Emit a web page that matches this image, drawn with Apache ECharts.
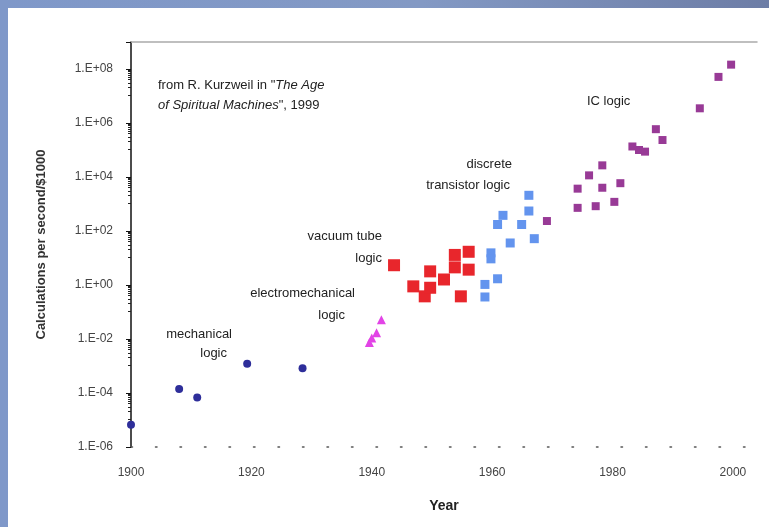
<!DOCTYPE html>
<html>
<head>
<meta charset="utf-8">
<script src="https://cdn.jsdelivr.net/npm/echarts@6/dist/echarts.min.js"></script>
<style>
  html, body {
    margin: 0;
    padding: 0;
    width: 769px;
    height: 527px;
    overflow: hidden;
    background: linear-gradient(to right, #7f98c9, #8399c4 55%, #6d7da6);
  }
  #chart {
    position: absolute;
    left: 8px;
    top: 8px;
    width: 761px;
    height: 519px;
    background: #ffffff;
  }
</style>
</head>
<body>
<div id="chart"></div>
<script>
// [year, calculations per second per $1000]
var mechanical = [
  [1900, 6.6e-6], [1908, 1.4e-4], [1911, 6.8e-5], [1919.3, 1.2e-3], [1928.5, 8.3e-4]
];
var electromechanical = [
  [1939.6, 7.4e-3], [1940, 1.1e-2], [1940.8, 1.7e-2], [1941.6, 5.2e-2]
];
var vacuumTube = [
  [1943.7, 5.4], [1946.9, 0.89], [1948.8, 0.38], [1949.7, 3.2], [1949.7, 0.79],
  [1952, 1.6], [1953.8, 13], [1953.8, 4.5], [1954.8, 0.38], [1956.1, 17], [1956.1, 3.7]
];
var transistor = [
  [1958.8, 1.05], [1958.8, 0.36], [1959.8, 15.5], [1959.8, 9.3], [1960.9, 1.7],
  [1960.9, 174], [1961.8, 380], [1963, 36], [1964.9, 174], [1966.1, 2100],
  [1966.1, 550], [1967, 52]
];
var icLogic = [
  [1969.1, 234], [1974.2, 720], [1974.2, 3700], [1976.1, 11500], [1977.2, 830],
  [1978.3, 27000], [1978.3, 4000], [1980.3, 1200], [1981.3, 5900], [1983.3, 135000],
  [1984.4, 100000], [1985.4, 87000], [1987.2, 590000], [1988.3, 234000],
  [1994.5, 3.5e6], [1997.6, 5.1e7], [1999.7, 1.45e8]
];
var yearTicks = [1900, 1920, 1940, 1960, 1980, 2000];

var chart = echarts.init(document.getElementById("chart"));
var font = "Liberation Sans, Arial, sans-serif";

function expLabel(v) {
  var e = Math.round(Math.log10(v));
  var s = (e < 0 ? "-" : "+") + (Math.abs(e) < 10 ? "0" : "") + Math.abs(e);
  return "1.E" + s;
}

function txt(x, y, text, align) {
  return {
    type: "text",
    left: align === "right" ? null : x,
    right: align === "right" ? 761 - x : null,
    top: y - 8,
    style: { text: text, font: "13px " + font, fill: "#222" }
  };
}

var option = {
  animation: false,
  grid: { left: 123, top: 34, right: 12, bottom: 80 },
  xAxis: [
    {
      type: "value",
      min: 1900,
      max: 2004,
      interval: 20,
      name: "Year",
      nameLocation: "middle",
      nameGap: 52,
      nameTextStyle: { fontFamily: font, fontWeight: "bold", fontSize: 14, color: "#222" },
      axisLine: { show: true, lineStyle: { color: "#555", width: 1.5, type: [1.5, 23] } },
      axisTick: { show: false },
      splitLine: { show: false },
      axisLabel: {
        fontFamily: font, fontSize: 12, color: "#444", margin: 20,
        showMaxLabel: false,
        formatter: function (v) { return yearTicks.indexOf(v) >= 0 ? String(v) : ""; }
      }
    },
    {
      type: "value",
      position: "top",
      min: 1900,
      max: 2004,
      axisLine: { show: true, lineStyle: { color: "#aaa", width: 1.5 } },
      axisTick: { show: false },
      axisLabel: { show: false },
      splitLine: { show: false }
    }
  ],
  yAxis: {
    type: "log",
    logBase: 100,
    min: 1e-6,
    max: 1e9,
    name: "Calculations per second/$1000",
    nameLocation: "middle",
    nameGap: 83,
    nameTextStyle: { fontFamily: font, fontWeight: "bold", fontSize: 13, color: "#333" },
    axisLine: { show: true, lineStyle: { color: "#111", width: 1.5 } },
    axisTick: { show: true, length: 5, lineStyle: { color: "#111" } },
    minorTick: { show: true, splitNumber: 10, length: 3, lineStyle: { color: "#222" } },
    splitLine: { show: false },
    axisLabel: {
      fontFamily: font, fontSize: 12, color: "#444", margin: 18,
      showMaxLabel: false,
      formatter: expLabel
    }
  },
  series: [
    { name: "mechanical", type: "scatter", data: mechanical, symbol: "circle", symbolSize: 8,
      itemStyle: { color: "#2e2e9a", opacity: 1 } },
    { name: "electromechanical", type: "scatter", data: electromechanical, symbol: "triangle", symbolSize: 9,
      itemStyle: { color: "#e244e6", opacity: 1 } },
    { name: "vacuum tube", type: "scatter", data: vacuumTube, symbol: "rect", symbolSize: 12,
      itemStyle: { color: "#e8262c", opacity: 1 } },
    { name: "transistor", type: "scatter", data: transistor, symbol: "rect", symbolSize: 9,
      itemStyle: { color: "#6394ee", opacity: 1 } },
    { name: "IC", type: "scatter", data: icLogic, symbol: "rect", symbolSize: 8,
      itemStyle: { color: "#983a96", opacity: 1 } }
  ],
  graphic: [
    {
      type: "text", left: 150, top: 67,
      style: {
        text: 'from R. Kurzweil in "{i|The Age}\n{i|of Spiritual Machines}", 1999',
        font: "13px " + font, fill: "#222", lineHeight: 20,
        rich: { i: { fontStyle: "italic", fontFamily: font, fontSize: 13, fill: "#222" } }
      }
    },
    txt(579, 95, "IC logic"),
    txt(504, 158, "discrete", "right"),
    txt(502, 179, "transistor logic", "right"),
    txt(374, 230, "vacuum tube", "right"),
    txt(374, 252, "logic", "right"),
    txt(347, 287, "electromechanical", "right"),
    txt(337, 309, "logic", "right"),
    txt(224, 328, "mechanical", "right"),
    txt(219, 347, "logic", "right")
  ]
};
chart.setOption(option);
</script>
</body>
</html>
